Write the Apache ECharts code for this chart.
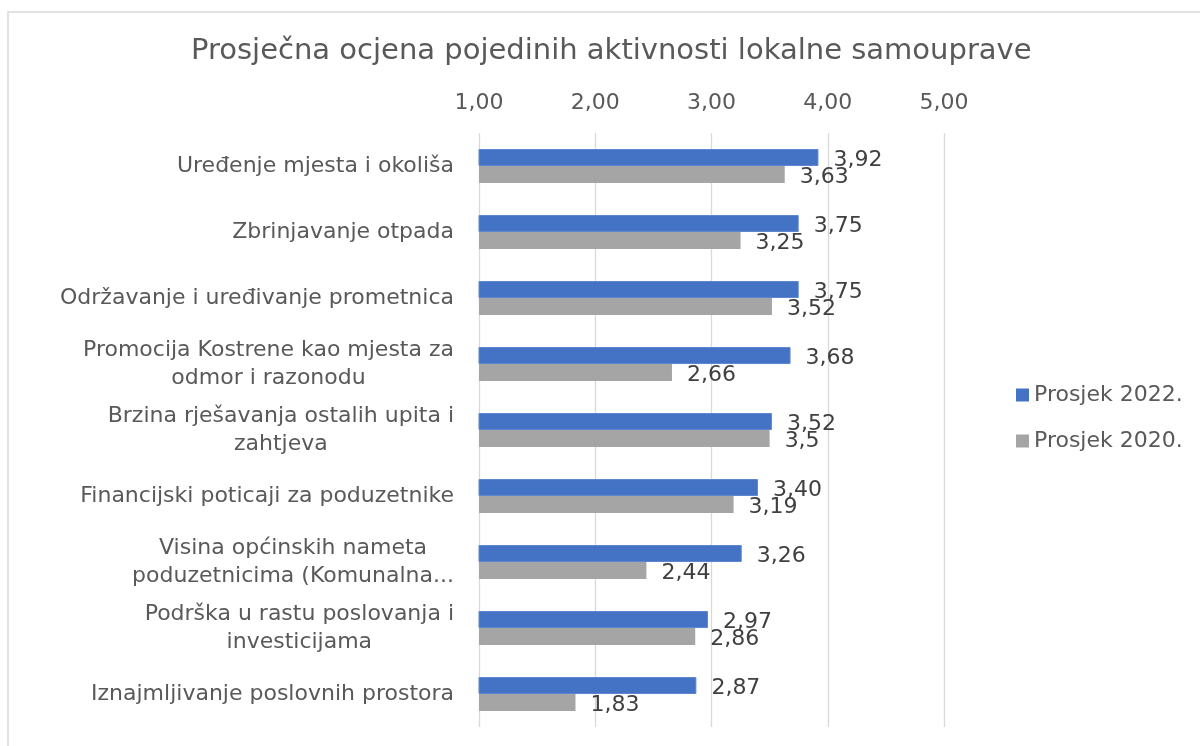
<!DOCTYPE html>
<html>
<head>
<meta charset="utf-8">
<script src="https://cdn.jsdelivr.net/npm/echarts@6/dist/echarts.min.js"></script>
<style>html,body{margin:0;padding:0;background:#fff}#c{width:1200px;height:746px}</style>
</head>
<body>
<div id="c"></div>
<script>
const title = 'Prosječna ocjena pojedinih aktivnosti lokalne samouprave';
const categories = [
  'Uređenje mjesta i okoliša',
  'Zbrinjavanje otpada',
  'Održavanje i uređivanje prometnica',
  'Promocija Kostrene kao mjesta za\nodmor i razonodu',
  'Brzina rješavanja ostalih upita i\nzahtjeva',
  'Financijski poticaji za poduzetnike',
  'Visina općinskih nameta\npoduzetnicima (Komunalna...',
  'Podrška u rastu poslovanja i\ninvesticijama',
  'Iznajmljivanje poslovnih prostora'
];
const seriesNames = ['Prosjek 2022.', 'Prosjek 2020.'];
const values2022 = [3.92, 3.75, 3.75, 3.68, 3.52, 3.40, 3.26, 2.97, 2.87];
const values2020 = [3.63, 3.25, 3.52, 2.66, 3.5, 3.19, 2.44, 2.86, 1.83];
const axisMin = 1, axisMax = 5, axisStep = 1;

const FONT = '"DejaVu Sans", sans-serif';
const LABEL_SIZE = 22;
const GREY_TEXT = '#595959';

// measure lines for centered multi-line category labels
const cv = document.createElement('canvas').getContext('2d');
cv.font = LABEL_SIZE + 'px "DejaVu Sans"';
const rich = {};
categories.forEach((c, i) => {
  const w = Math.max(...c.split('\n').map(l => cv.measureText(l).width)) + 2;
  rich['r' + i] = {width: w, align: 'center', fontSize: LABEL_SIZE, fontFamily: FONT, color: GREY_TEXT, lineHeight: 28};
});

const chart = echarts.init(document.getElementById('c'), null, {renderer: 'canvas'});
chart.setOption({
  animation: false,
  backgroundColor: '#fff',
  textStyle: {fontFamily: FONT},
  title: {
    text: title, left: 191, top: 37, padding: 0,
    textStyle: {fontSize: 29, fontWeight: 'normal', color: GREY_TEXT, fontFamily: FONT}
  },
  graphic: [{
    type: 'rect', silent: true, z: -1,
    shape: {x: 8, y: 12, width: 1400, height: 1000},
    style: {fill: 'none', stroke: '#d9d9d9', lineWidth: 1.5}
  }],
  legend: {
    orient: 'vertical', left: 1011, top: 379,
    itemWidth: 13, itemHeight: 13, itemGap: 24, icon: 'rect',
    itemStyle: {borderWidth: 0},
    textStyle: {fontSize: LABEL_SIZE, color: GREY_TEXT, fontFamily: FONT},
    data: seriesNames
  },
  grid: {left: 479, right: 256, top: 133, bottom: 19, containLabel: false},
  xAxis: {
    type: 'value', position: 'top', min: axisMin, max: axisMax, interval: axisStep,
    axisLine: {show: false}, axisTick: {show: false},
    splitLine: {show: true, lineStyle: {color: '#d9d9d9', width: 1.3}},
    axisLabel: {
      fontSize: LABEL_SIZE, color: GREY_TEXT, fontFamily: FONT, margin: 19,
      formatter: v => v.toFixed(2).replace('.', ',')
    }
  },
  yAxis: {
    type: 'category', inverse: true, data: categories,
    axisLine: {show: false}, axisTick: {show: false},
    axisLabel: {
      margin: 24, align: 'right', rich: rich,
      formatter: (v, i) => v.split('\n').map(l => '{r' + i + '|' + l + '}').join('\n')
    }
  },
  series: [
    {
      name: seriesNames[0], type: 'bar', data: values2022, barWidth: 17, barGap: '0%',
      itemStyle: {color: '#4472C4', borderColor: '#5f87d0', borderWidth: 1},
      label: {
        show: true, position: 'right', distance: 15, offset: [0, 3], fontSize: LABEL_SIZE, color: '#404040', fontFamily: FONT,
        formatter: p => p.value.toFixed(2).replace('.', ',')
      }
    },
    {
      name: seriesNames[1], type: 'bar', data: values2020, barWidth: 17, barGap: '0%',
      itemStyle: {color: '#A5A5A5'},
      label: {
        show: true, position: 'right', distance: 15, offset: [0, 3], fontSize: LABEL_SIZE, color: '#404040', fontFamily: FONT,
        formatter: p => String(p.value).replace('.', ',')
      }
    }
  ]
});
</script>
</body>
</html>
